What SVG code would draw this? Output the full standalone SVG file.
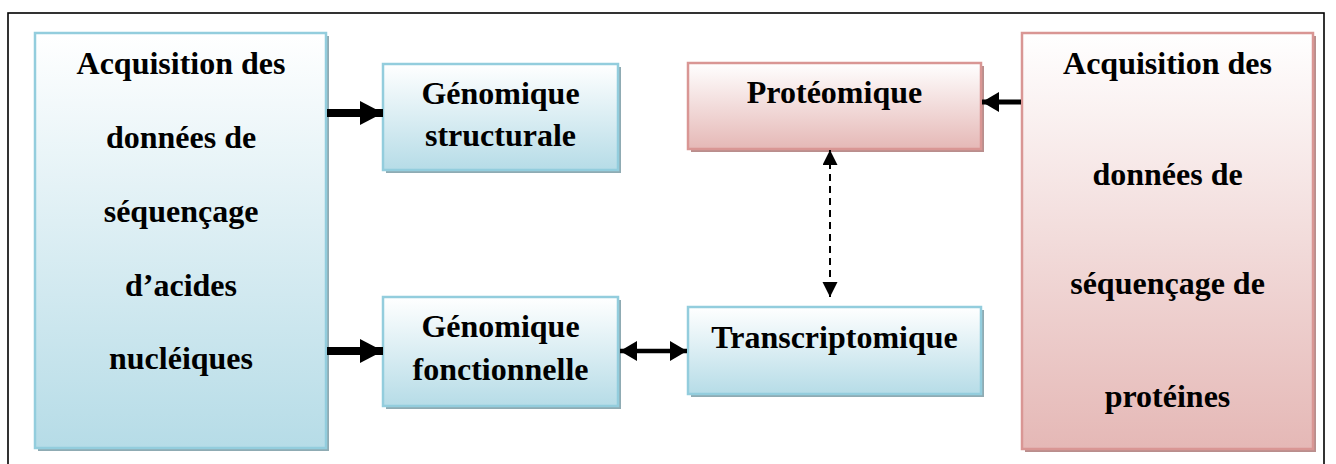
<svg xmlns="http://www.w3.org/2000/svg" width="1336" height="464" viewBox="0 0 1336 464">
  <defs>
    <linearGradient id="gBlue" x1="0" y1="0" x2="0" y2="1">
      <stop offset="0" stop-color="#ffffff"/>
      <stop offset="1" stop-color="#b6dce7"/>
    </linearGradient>
    <linearGradient id="gPink" x1="0" y1="0" x2="0" y2="1">
      <stop offset="0" stop-color="#ffffff"/>
      <stop offset="1" stop-color="#e5b8b6"/>
    </linearGradient>
    <marker id="headBig" markerUnits="userSpaceOnUse" markerWidth="24" markerHeight="24" refX="23" refY="12" orient="auto">
      <path d="M0,0 L23,12 L0,24 Z" fill="#000"/>
    </marker>
    <marker id="headMid" markerUnits="userSpaceOnUse" markerWidth="18" markerHeight="20" refX="17" refY="10" orient="auto-start-reverse">
      <path d="M0,0 L17,10 L0,20 Z" fill="#000"/>
    </marker>
    <marker id="headSmall" markerUnits="userSpaceOnUse" markerWidth="16" markerHeight="16" refX="15" refY="7.5" orient="auto-start-reverse">
      <path d="M0,0 L15,7.5 L0,15 Z" fill="#000"/>
    </marker>
    <style>
      .blue { fill: url(#gBlue); stroke: #93cddd; stroke-width: 2.5; }
      .pink { fill: url(#gPink); stroke: #d99694; stroke-width: 2.5; }
      .shB { fill: #8fabb3; }
      .shP { fill: #b98e8d; }
      .t { font-family: 'Liberation Serif', 'Times New Roman', serif; font-weight: bold; font-size: 32px; text-anchor: middle; fill: #000; }
    </style>
  </defs>

  <rect width="1336" height="464" fill="#ffffff"/>

  <!-- outer frame -->
  <rect x="8" y="13" width="1316" height="470" fill="none" stroke="#000" stroke-width="1.6"/>

  <!-- left source box -->
  <g id="acq-nucleiques">
    <rect class="shB" x="38" y="36" width="291" height="415"/>
    <rect class="blue" x="35" y="33" width="291" height="415"/>
    <text class="t" x="181" y="74">Acquisition des</text>
    <text class="t" x="181" y="148">données de</text>
    <text class="t" x="181" y="222">séquençage</text>
    <text class="t" x="181" y="296">d’acides</text>
    <text class="t" x="181" y="369">nucléiques</text>
  </g>

  <g id="genomique-structurale">
    <rect class="shB" x="386" y="67" width="235" height="106"/>
    <rect class="blue" x="383" y="64" width="235" height="106"/>
    <text class="t" x="500.5" y="104">Génomique</text>
    <text class="t" x="500.5" y="146">structurale</text>
  </g>

  <g id="genomique-fonctionnelle">
    <rect class="shB" x="386" y="300" width="235" height="109"/>
    <rect class="blue" x="383" y="297" width="235" height="109"/>
    <text class="t" x="500.5" y="337">Génomique</text>
    <text class="t" x="500.5" y="380">fonctionnelle</text>
  </g>

  <g id="proteomique">
    <rect class="shP" x="691" y="66" width="293" height="86"/>
    <rect class="pink" x="688" y="63" width="293" height="86"/>
    <text class="t" x="834.5" y="103">Protéomique</text>
  </g>

  <g id="transcriptomique">
    <rect class="shB" x="691" y="310" width="293" height="87"/>
    <rect class="blue" x="688" y="307" width="293" height="87"/>
    <text class="t" x="834.5" y="348">Transcriptomique</text>
  </g>

  <!-- right source box -->
  <g id="acq-proteines">
    <rect class="shP" x="1025" y="36" width="291" height="416"/>
    <rect class="pink" x="1022" y="33" width="291" height="416"/>
    <text class="t" x="1167.5" y="74">Acquisition des</text>
    <text class="t" x="1167.5" y="185">données de</text>
    <text class="t" x="1167.5" y="294">séquençage de</text>
    <text class="t" x="1167.5" y="407">protéines</text>
  </g>

  <!-- connectors -->
  <g id="connectors" stroke="#000" fill="none">
    <line x1="327" y1="113" x2="383" y2="113" stroke-width="8" marker-end="url(#headBig)"/>
    <line x1="327" y1="351" x2="383" y2="351" stroke-width="8" marker-end="url(#headBig)"/>
    <line x1="620" y1="351" x2="687" y2="351" stroke-width="4.5" marker-start="url(#headMid)" marker-end="url(#headMid)"/>
    <line x1="1021" y1="102" x2="982" y2="102" stroke-width="5" marker-end="url(#headMid)"/>
    <line x1="830" y1="150" x2="830" y2="297" stroke-width="2" stroke-dasharray="7 5" marker-start="url(#headSmall)" marker-end="url(#headSmall)"/>
  </g>
</svg>
